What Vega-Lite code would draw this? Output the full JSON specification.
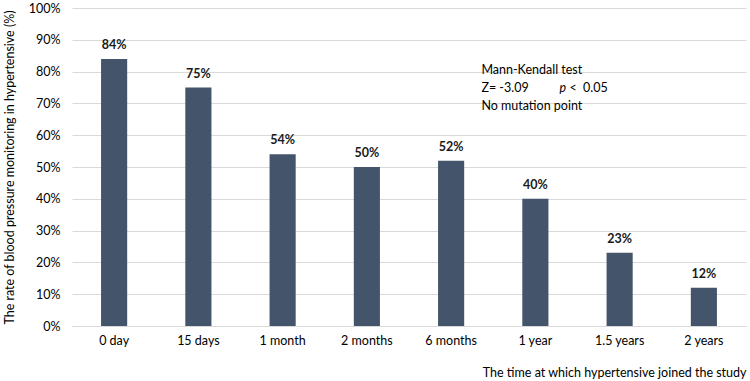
{
  "$schema": "https://vega.github.io/schema/vega-lite/v6.json",
  "width": 674,
  "height": 318,
  "autosize": "none",
  "padding": {"left": 72, "top": 8, "right": 4, "bottom": 55},
  "background": "white",
  "config": {
    "view": {"stroke": null},
    "font": "Lato",
    "text": {"font": "Lato"}
  },
  "data": {
    "values": [
      {"time": "0 day", "rate": 0.84},
      {"time": "15 days", "rate": 0.75},
      {"time": "1 month", "rate": 0.54},
      {"time": "2 months", "rate": 0.50},
      {"time": "6 months", "rate": 0.52},
      {"time": "1 year", "rate": 0.40},
      {"time": "1.5 years", "rate": 0.23},
      {"time": "2 years", "rate": 0.12}
    ]
  },
  "encoding": {
    "x": {
      "field": "time", "type": "nominal", "sort": null,
      "scale": {"paddingInner": 0.69, "paddingOuter": 0.345},
      "axis": {
        "title": "The time at which hypertensive joined the study",
        "titleAnchor": "end", "titleFontWeight": "normal", "titleFontSize": 12.5,
        "titleColor": "#000000", "titlePadding": 20,
        "labelAngle": 0, "labelFontSize": 12.5, "labelColor": "#000000", "labelPadding": 8,
        "ticks": false, "domainColor": "#d9d9d9", "domainWidth": 1
      }
    },
    "y": {
      "field": "rate", "type": "quantitative",
      "scale": {"domain": [0, 1]},
      "axis": {
        "title": "The rate of blood pressure monitoring in hypertensive (%)",
        "format": ".0%", "values": [0,0.1,0.2,0.3,0.4,0.5,0.6,0.7,0.8,0.9,1],
        "labelOverlap": false,
        "titleFontWeight": "normal", "titleFontSize": 12.5, "titleColor": "#000000", "titlePadding": 12,
        "labelFontSize": 12.5, "labelColor": "#000000", "labelPadding": 12,
        "ticks": false, "domain": false, "gridColor": "#d9d9d9", "gridWidth": 1
      }
    }
  },
  "layer": [
    {"mark": {"type": "bar", "color": "#44546A"}},
    {
      "mark": {"type": "text", "baseline": "bottom", "dy": -7, "fontSize": 12.5, "fontWeight": "bold", "color": "#1a1a1a"},
      "encoding": {"text": {"field": "rate", "type": "quantitative", "format": ".0%"}}
    },
    {
      "data": {"values": [
        {"label": "Mann-Kendall test", "pos": 0.805},
        {"label": "Z= -3.09", "pos": 0.748},
        {"label": "No mutation point", "pos": 0.692}
      ]},
      "mark": {"type": "text", "align": "left", "baseline": "middle", "dx": -54, "fontSize": 12.5, "color": "#000000"},
      "encoding": {
        "x": {"datum": "1 year"},
        "y": {"field": "pos", "type": "quantitative"},
        "text": {"field": "label"}
      }
    },
    {
      "data": {"values": [{"label": "p", "pos": 0.748}]},
      "mark": {"type": "text", "align": "left", "baseline": "middle", "dx": 24, "fontSize": 12.5, "fontStyle": "italic", "color": "#000000"},
      "encoding": {
        "x": {"datum": "1 year"},
        "y": {"field": "pos", "type": "quantitative"},
        "text": {"field": "label"}
      }
    },
    {
      "data": {"values": [{"label": "<\u00a0\u00a00.05", "pos": 0.748}]},
      "mark": {"type": "text", "align": "left", "baseline": "middle", "dx": 34, "fontSize": 12.5, "color": "#000000"},
      "encoding": {
        "x": {"datum": "1 year"},
        "y": {"field": "pos", "type": "quantitative"},
        "text": {"field": "label"}
      }
    }
  ]
}
